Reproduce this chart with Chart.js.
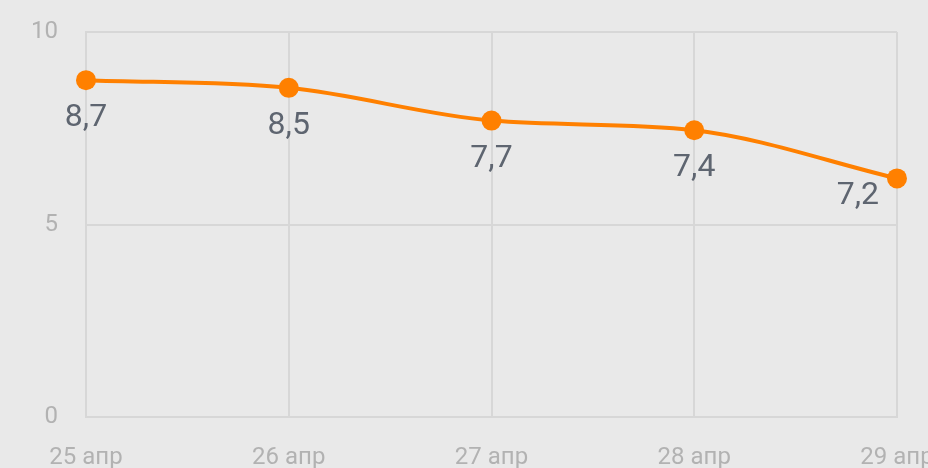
<!DOCTYPE html>
<html>
<head>
<meta charset="utf-8">
<script src="https://cdn.jsdelivr.net/npm/chart.js@4/dist/chart.umd.min.js"></script>
<style>
  html, body { margin: 0; padding: 0; background: #e9e9e9; overflow: hidden; }
  #wrap { width: 928px; height: 468px; overflow: hidden; }
</style>
</head>
<body>
<div id="wrap"><canvas id="rateChart" width="928" height="498"></canvas></div>
<script>
// Data
const days = ["25 апр", "26 апр", "27 апр", "28 апр", "29 апр"];
const rates = [8.75, 8.55, 7.7, 7.45, 6.2];
const rateLabels = ["8,7", "8,5", "7,7", "7,4", "7,2"];
const yTicks = [0, 5, 10];

// Value labels under the points
const valueLabels = {
  id: "valueLabels",
  afterDatasetsDraw(chart) {
    const ctx = chart.ctx;
    const meta = chart.getDatasetMeta(0);
    const area = chart.chartArea;
    ctx.save();
    ctx.font = "32px Roboto";
    ctx.fillStyle = "#5e6570";
    ctx.textBaseline = "middle";
    meta.data.forEach((pt, i) => {
      const text = rateLabels[i];
      const w = ctx.measureText(text).width;
      let x = pt.x;
      let y = pt.y + 38;
      if (x + w / 2 > area.right - 20) {
        // no room on the right: put it left of the point
        x = pt.x - 18 - w / 2;
        y = pt.y + 18;
      }
      ctx.textAlign = "center";
      ctx.fillText(text, x, y);
    });
    ctx.restore();
  }
};

const ctx = document.getElementById("rateChart").getContext("2d");
new Chart(ctx, {
  type: "line",
  data: {
    labels: days,
    datasets: [{
      data: rates,
      borderColor: "#ff8000",
      backgroundColor: "#ff8000",
      borderWidth: 4,
      pointRadius: 10,
      pointHoverRadius: 10,
      pointBorderWidth: 0,
      cubicInterpolationMode: "monotone",
      fill: false
    }]
  },
  options: {
    responsive: false,
    animation: false,
    layout: { padding: { top: 32, right: 31, left: 0, bottom: 0 } },
    plugins: {
      legend: { display: false },
      tooltip: { enabled: false }
    },
    scales: {
      x: {
        offset: false,
        grid: { color: "#d7d7d7", lineWidth: 2, drawTicks: false },
        border: { color: "#d7d7d7", width: 2 },
        ticks: {
          color: "#b2b2b2",
          font: { family: "Roboto", size: 24 },
          padding: 26,
          maxRotation: 0
        },
        afterFit(scale) { scale.paddingRight = 0; scale.paddingLeft = 0; }
      },
      y: {
        min: 0,
        max: 10,
        afterBuildTicks(scale) { scale.ticks = yTicks.map(v => ({ value: v })); },
        grid: { color: "#d7d7d7", lineWidth: 2, drawTicks: false },
        border: { color: "#d7d7d7", width: 2 },
        ticks: {
          color: "#b2b2b2",
          font: { family: "Roboto", size: 24 },
          padding: 28
        },
        afterFit(scale) { scale.width = 86; scale.paddingTop = 0; scale.paddingBottom = 0; }
      }
    }
  },
  plugins: [valueLabels]
});
</script>
</body>
</html>
